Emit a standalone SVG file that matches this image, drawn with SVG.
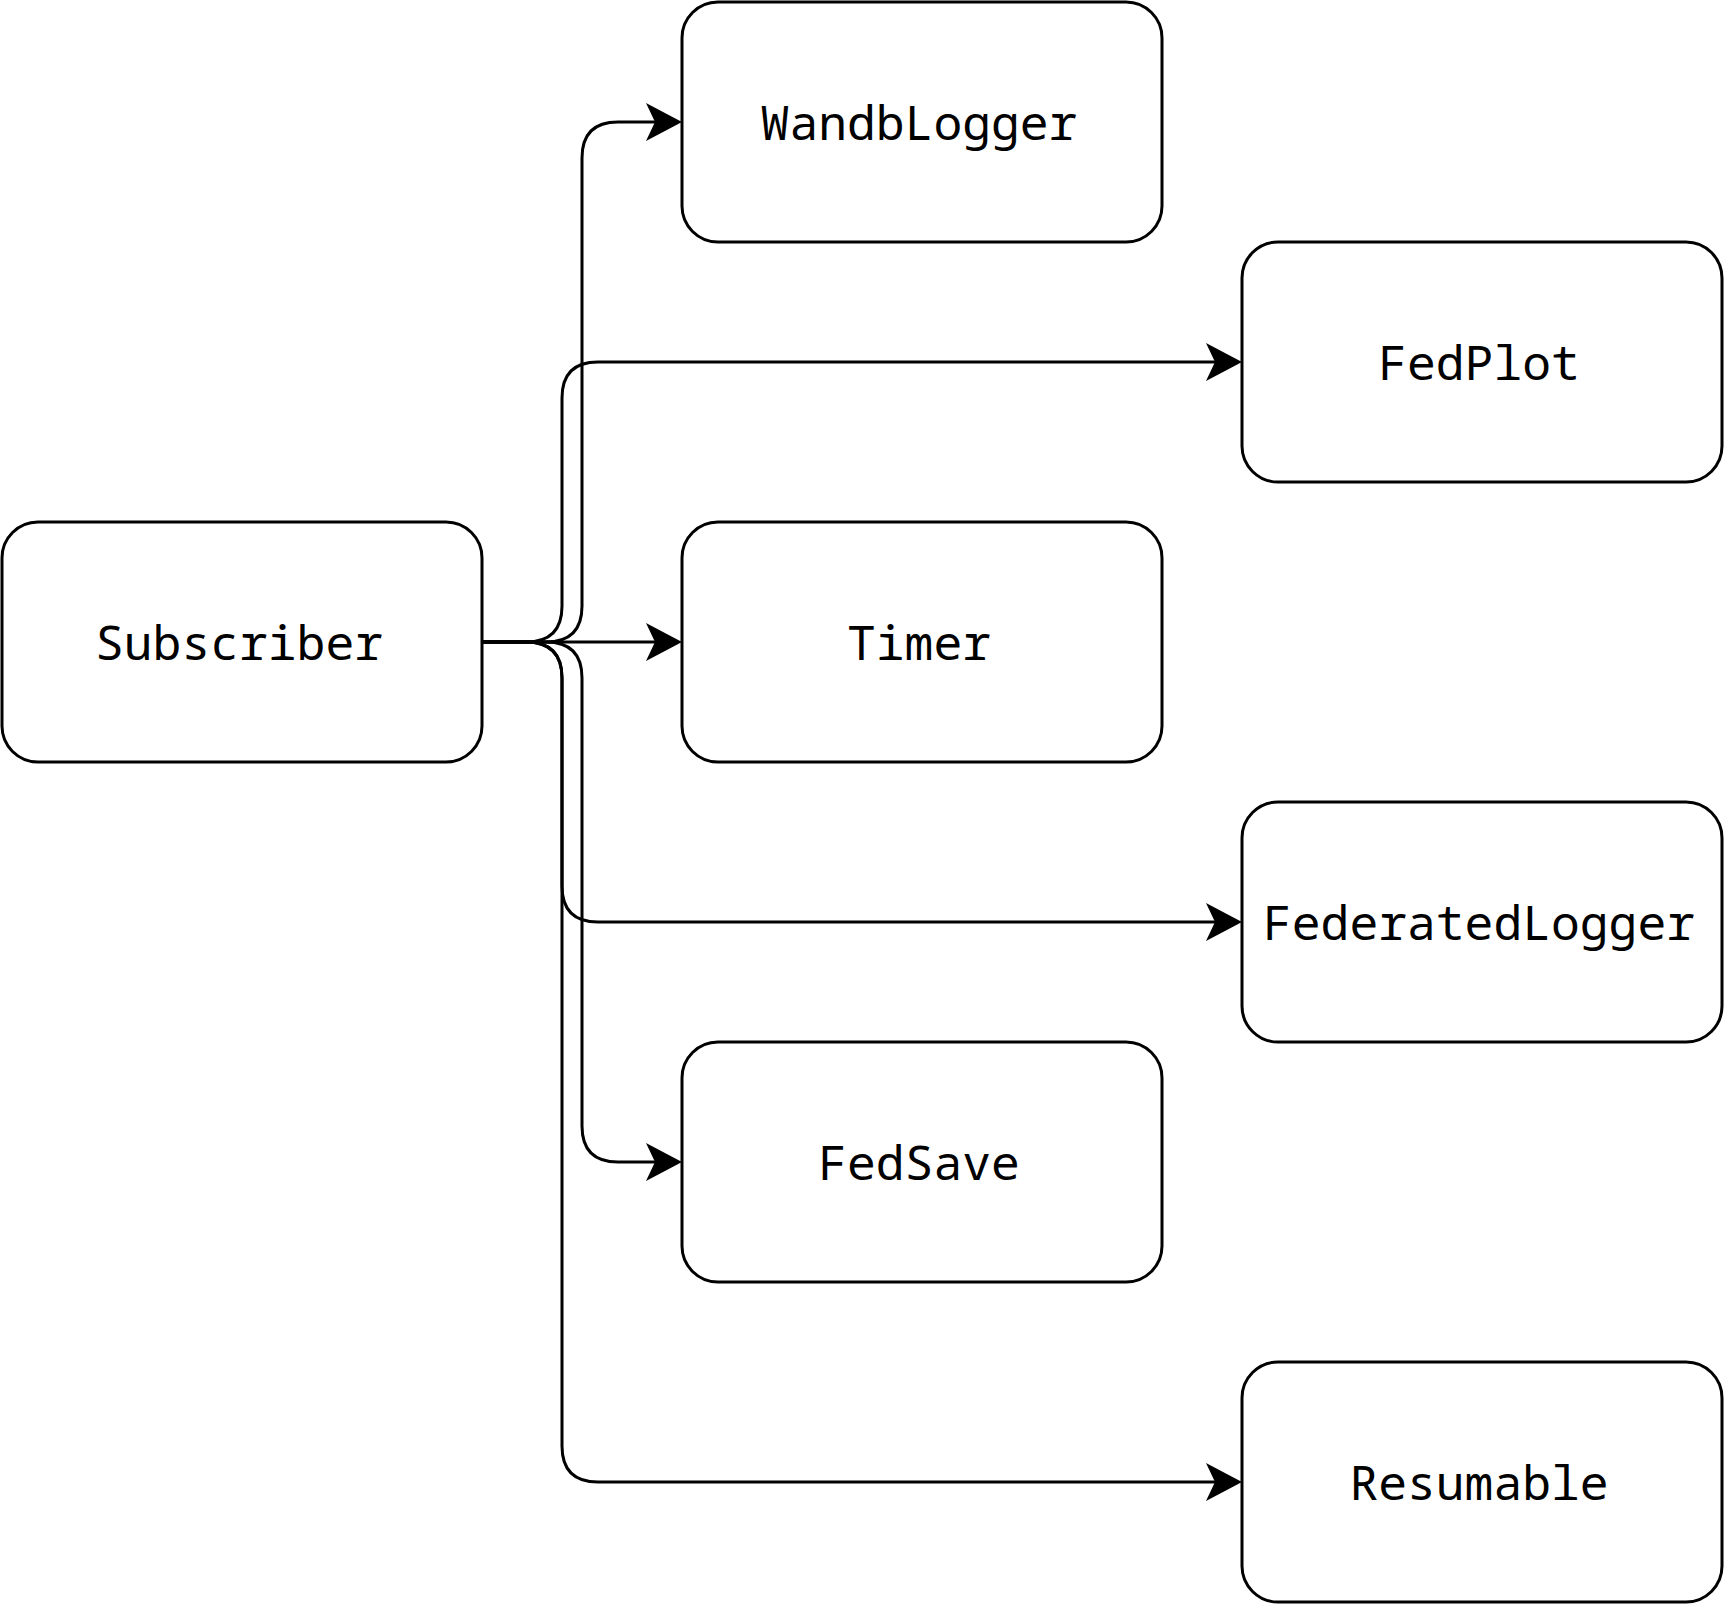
<svg xmlns="http://www.w3.org/2000/svg" width="1724" height="1604" viewBox="0 0 1724 1604">
  <style>
    .box { fill: #ffffff; stroke: #000000; stroke-width: 3; }
    .lbl { font-family: "Noto Sans Mono", "DejaVu Sans Mono", monospace; font-size: 48px; fill: #000000; text-anchor: middle; }
    .edge { fill: none; stroke: #000000; stroke-width: 3; marker-end: url(#arrow); }
  </style>
  <defs>
    <marker id="arrow" markerUnits="userSpaceOnUse" viewBox="0 0 36 38" refX="9" refY="19" markerWidth="36" markerHeight="38" orient="auto">
      <path d="M0,0 L36,19 L0,38 L9,19 Z" fill="#000000"/>
    </marker>
  </defs>
  <rect width="1724" height="1604" fill="#ffffff"/>
  <g id="connectors">
    <path class="edge" d="M482,642 H546 Q582,642 582,606 V158 Q582,122 618,122 H655"/>
    <path class="edge" d="M482,642 H526 Q562,642 562,606 V398 Q562,362 598,362 H1215"/>
    <path class="edge" d="M482,642 H655"/>
    <path class="edge" d="M482,642 H526 Q562,642 562,678 V886 Q562,922 598,922 H1215"/>
    <path class="edge" d="M482,642 H546 Q582,642 582,678 V1126 Q582,1162 618,1162 H655"/>
    <path class="edge" d="M482,642 H526 Q562,642 562,678 V1446 Q562,1482 598,1482 H1215"/>
  </g>
  <g id="subscriber">
    <rect class="box" x="2" y="522" width="480" height="240" rx="36" ry="36"/>
    <text class="lbl" x="239" y="660">Subscriber</text>
  </g>
  <g id="wandblogger">
    <rect class="box" x="682" y="2" width="480" height="240" rx="36" ry="36"/>
    <text class="lbl" x="919" y="140">WandbLogger</text>
  </g>
  <g id="fedplot">
    <rect class="box" x="1242" y="242" width="480" height="240" rx="36" ry="36"/>
    <text class="lbl" x="1479" y="380">FedPlot</text>
  </g>
  <g id="timer">
    <rect class="box" x="682" y="522" width="480" height="240" rx="36" ry="36"/>
    <text class="lbl" x="919" y="660">Timer</text>
  </g>
  <g id="federatedlogger">
    <rect class="box" x="1242" y="802" width="480" height="240" rx="36" ry="36"/>
    <text class="lbl" x="1479" y="940">FederatedLogger</text>
  </g>
  <g id="fedsave">
    <rect class="box" x="682" y="1042" width="480" height="240" rx="36" ry="36"/>
    <text class="lbl" x="919" y="1180">FedSave</text>
  </g>
  <g id="resumable">
    <rect class="box" x="1242" y="1362" width="480" height="240" rx="36" ry="36"/>
    <text class="lbl" x="1479" y="1500">Resumable</text>
  </g>
</svg>
